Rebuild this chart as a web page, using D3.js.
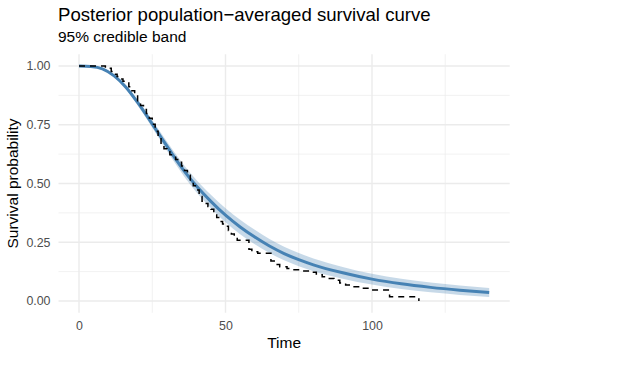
<!DOCTYPE html>
<html lang="en">
<head>
<meta charset="utf-8">
<title>Posterior survival curve</title>
<script src="https://cdn.jsdelivr.net/npm/d3@7"></script>
<style>
body { margin: 0; background: #fff; }
svg text { font-family: "Liberation Sans", Arial, sans-serif; }
.grid line { stroke: #EBEBEB; }
.axis text { fill: #4D4D4D; font-size: 12.4px; }
</style>
</head>
<body>
<script>
var w = 622; // svg width
var h = 382; // svg height

// posterior population-averaged curve + 95% band
var postTime  = [0, 4, 8, 12, 16, 20, 24, 28, 32, 36, 40, 45, 50, 55, 60, 65, 70, 75, 80, 90, 100, 110, 120, 130, 140];
var postMean  = [1.000, 0.998, 0.988, 0.958, 0.910, 0.845, 0.772, 0.697, 0.622, 0.552, 0.490, 0.424, 0.365, 0.315, 0.272, 0.234, 0.202, 0.176, 0.154, 0.120, 0.093, 0.073, 0.058, 0.046, 0.036];
var postLower = [1.000, 0.997, 0.985, 0.952, 0.901, 0.833, 0.757, 0.679, 0.601, 0.528, 0.464, 0.396, 0.335, 0.284, 0.241, 0.204, 0.173, 0.148, 0.127, 0.095, 0.070, 0.051, 0.037, 0.026, 0.017];
var postUpper = [1.000, 0.999, 0.991, 0.964, 0.919, 0.857, 0.787, 0.715, 0.643, 0.576, 0.516, 0.452, 0.395, 0.346, 0.303, 0.264, 0.231, 0.204, 0.181, 0.145, 0.116, 0.095, 0.079, 0.066, 0.055];

// Kaplan-Meier estimate (step function)
var kmTime = [0, 9, 11, 12, 13, 14, 15, 16, 17, 18, 19, 20, 21, 22, 23, 24, 25, 26, 27, 28, 29, 30,
              31, 32, 33, 34, 35, 36, 37, 38, 39, 40, 41, 42, 43, 44, 45, 46, 47, 48, 49, 50,
              51, 52, 53, 54, 58, 59, 61, 65.5, 67, 68.5, 71, 73, 76, 79, 81, 83, 85, 87, 89,
              91, 93, 96, 99, 106, 116];
var kmSurv = [1, 0.99, 0.977, 0.965, 0.955, 0.945, 0.935, 0.928, 0.912, 0.895, 0.872, 0.852, 0.832, 0.815, 0.798, 0.778, 0.752, 0.722, 0.695, 0.668, 0.648, 0.635,
              0.622, 0.612, 0.602, 0.59, 0.575, 0.555, 0.535, 0.51, 0.49, 0.472, 0.445, 0.425, 0.415, 0.402, 0.39, 0.375, 0.355, 0.338, 0.328, 0.318,
              0.3, 0.285, 0.27, 0.258, 0.22, 0.21, 0.203, 0.17, 0.155, 0.146, 0.138, 0.133, 0.128, 0.122, 0.112, 0.103, 0.096, 0.088, 0.077,
              0.068, 0.061, 0.054, 0.047, 0.018, 0];

// tick labels / grid
var xTicks = [0, 50, 100];
var xMinor = [25, 75, 125];
var yTicks = [0, 0.25, 0.5, 0.75, 1];
var yMinor = [0.125, 0.375, 0.625, 0.875];

var titleText = "Posterior population\u2212averaged survival curve";
var subtitleText = "95% credible band";

/////////////////////////////////////////////////
// scales
/////////////////////////////////////////////////
var panel = {left: 58.5, right: 509.7, top: 54.25, bottom: 312.75};

var xr = d3.extent(postTime);
var xpad = (xr[1] - xr[0]) * 0.05;
var x = d3.scaleLinear()
    .domain([xr[0] - xpad, xr[1] + xpad])
    .range([panel.left, panel.right]);

var y = d3.scaleLinear()
    .domain([-0.05, 1.05])
    .range([panel.bottom, panel.top]);

var svg = d3.select("body").append("svg")
    .attr("width", w)
    .attr("height", h);

svg.append("rect")
    .attr("width", w)
    .attr("height", h)
    .attr("fill", "#fff");

/////////////////////////////////////////////////
// grid lines (minor thinner)
/////////////////////////////////////////////////
var grid = svg.append("g").attr("class", "grid");

grid.selectAll(".ymin").data(yMinor).enter().append("line")
    .attr("x1", panel.left).attr("x2", panel.right)
    .attr("y1", function(d) { return y(d); })
    .attr("y2", function(d) { return y(d); })
    .attr("stroke-width", 0.7);
grid.selectAll(".xmin").data(xMinor).enter().append("line")
    .attr("y1", panel.top).attr("y2", panel.bottom)
    .attr("x1", function(d) { return x(d); })
    .attr("x2", function(d) { return x(d); })
    .attr("stroke-width", 0.7);
grid.selectAll(".ymaj").data(yTicks).enter().append("line")
    .attr("x1", panel.left).attr("x2", panel.right)
    .attr("y1", function(d) { return y(d); })
    .attr("y2", function(d) { return y(d); })
    .attr("stroke-width", 1.4);
grid.selectAll(".xmaj").data(xTicks).enter().append("line")
    .attr("y1", panel.top).attr("y2", panel.bottom)
    .attr("x1", function(d) { return x(d); })
    .attr("x2", function(d) { return x(d); })
    .attr("stroke-width", 1.4);

/////////////////////////////////////////////////
// band, posterior mean, KM
/////////////////////////////////////////////////
var band = d3.area()
    .x(function(d, i) { return x(postTime[i]); })
    .y0(function(d, i) { return y(postLower[i]); })
    .y1(function(d, i) { return y(postUpper[i]); })
    .curve(d3.curveMonotoneX);

svg.append("path")
    .attr("d", band(postTime))
    .attr("fill", "#4682B4")
    .attr("fill-opacity", 0.3);

var meanLine = d3.line()
    .x(function(d, i) { return x(postTime[i]); })
    .y(function(d, i) { return y(postMean[i]); })
    .curve(d3.curveMonotoneX);

svg.append("path")
    .attr("d", meanLine(postTime))
    .attr("fill", "none")
    .attr("stroke", "#4682B4")
    .attr("stroke-width", 3);

var kmLine = d3.line()
    .x(function(d, i) { return x(kmTime[i]); })
    .y(function(d, i) { return y(kmSurv[i]); })
    .curve(d3.curveStepAfter);

svg.append("path")
    .attr("d", kmLine(kmTime))
    .attr("fill", "none")
    .attr("stroke", "#000")
    .attr("stroke-width", 1.5)
    .attr("stroke-dasharray", "6,5");

/////////////////////////////////////////////////
// axes (no lines, just labels)
/////////////////////////////////////////////////
var xAxis = svg.append("g")
    .attr("class", "axis")
    .attr("transform", "translate(0," + panel.bottom + ")")
    .call(d3.axisBottom(x).tickValues(xTicks).tickSize(0).tickPadding(8));

var yAxis = svg.append("g")
    .attr("class", "axis")
    .attr("transform", "translate(" + panel.left + ",0)")
    .call(d3.axisLeft(y).tickValues(yTicks).tickSize(0).tickPadding(8).tickFormat(d3.format(".2f")));

svg.selectAll(".axis .domain").remove();
svg.selectAll(".axis text").attr("font-family", null);

// titles
svg.append("text")
    .attr("x", (panel.left + panel.right) / 2)
    .attr("y", 348)
    .attr("text-anchor", "middle")
    .attr("font-size", "15.5px")
    .text("Time");

svg.append("text")
    .attr("transform", "translate(17.5," + ((panel.top + panel.bottom) / 2) + ") rotate(-90)")
    .attr("text-anchor", "middle")
    .attr("font-size", "15.5px")
    .text("Survival probability");

svg.append("text")
    .attr("x", 58)
    .attr("y", 21)
    .attr("font-size", "18.6px")
    .text(titleText);

svg.append("text")
    .attr("x", 58)
    .attr("y", 42)
    .attr("font-size", "15.5px")
    .text(subtitleText);
</script>
</body>
</html>
